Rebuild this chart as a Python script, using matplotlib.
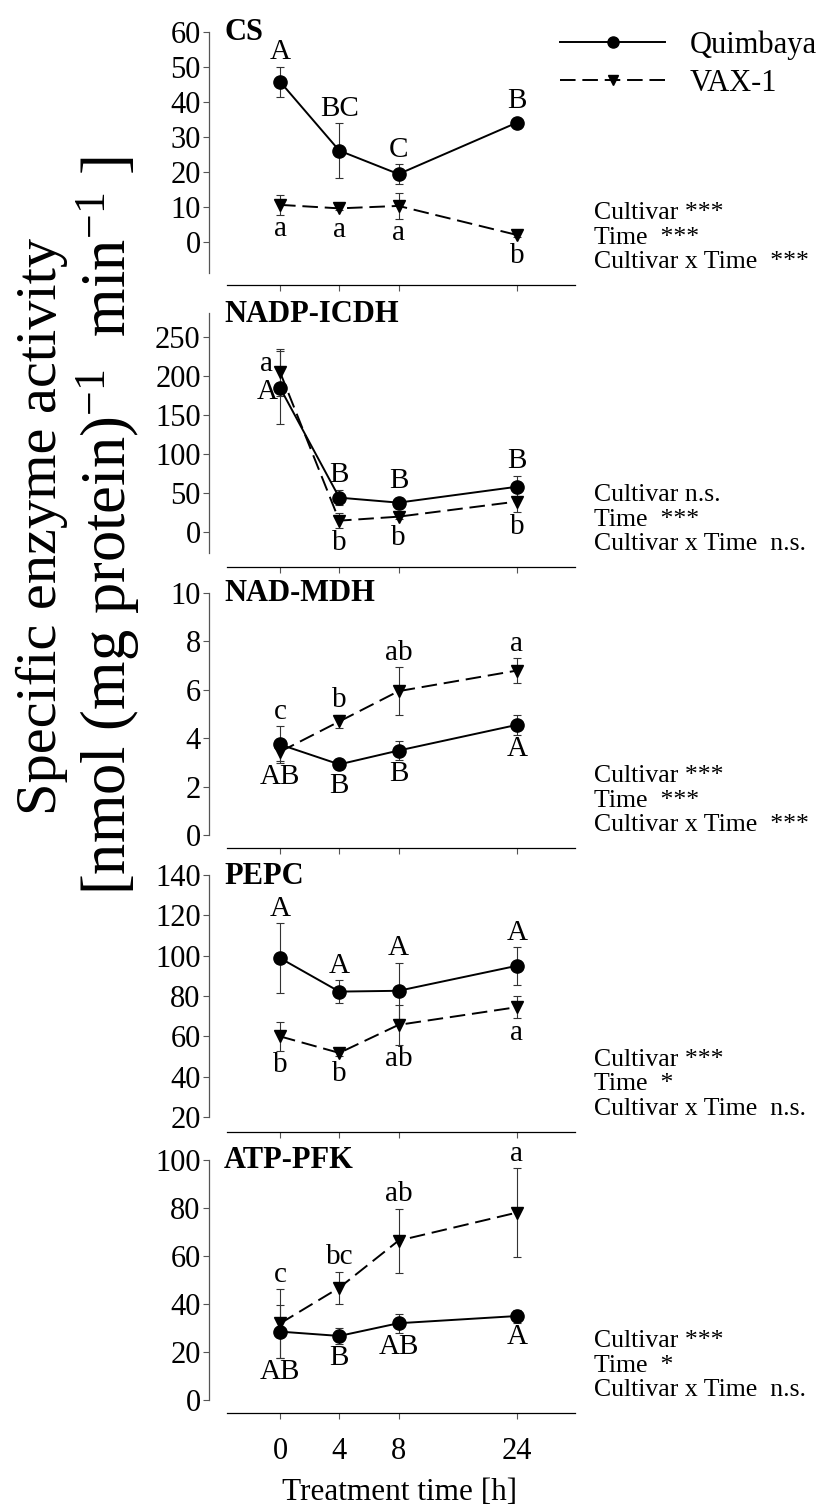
import matplotlib
matplotlib.use("Agg")
import matplotlib.pyplot as plt
from matplotlib.lines import Line2D

plt.rcParams['font.family'] = ['Liberation Serif', 'DejaVu Serif']
plt.rcParams['mathtext.fontset'] = 'custom'
plt.rcParams['mathtext.rm'] = 'Liberation Serif'
plt.rcParams['mathtext.it'] = 'Liberation Serif:italic'

# treatment times [h] and their slot on the (broken) x axis
times = [0, 4, 8, 24]
slots = [0, 1, 2, 4]

enzymes = ['CS', 'NADP-ICDH', 'NAD-MDH', 'PEPC', 'ATP-PFK']

# Quimbaya means / errors
q_mean = [
    [45.8, 26.1, 19.4, 34.1],
    [185, 44, 37.6, 58],
    [3.75, 2.93, 3.5, 4.56],
    [98.8, 82.2, 82.6, 95],
    [28.5, 26.7, 32, 35],
]
q_err = [
    [4.3, 7.8, 2.8, 1.0],
    [47, 10, 3, 14],
    [0.75, 0.1, 0.38, 0.4],
    [17.4, 5.7, 14, 9.3],
    [11, 3.2, 4, 2.7],
]
# VAX-1 means / errors
v_mean = [
    [10.6, 9.6, 10.3, 2.0],
    [205, 14.5, 19.6, 39],
    [3.45, 4.7, 5.95, 6.8],
    [60, 51.8, 65.7, 74.5],
    [31.9, 46.8, 66.4, 78.1],
]
v_err = [
    [2.8, 0.6, 3.6, 0.5],
    [30, 10, 3, 14],
    [0.4, 0.27, 1.0, 0.5],
    [7, 1.5, 10, 5.5],
    [14.4, 6.7, 13.3, 18.6],
]

# letters of the post-hoc test and where they sit:
# a/b = above/below own bar, A/B = above/below both bars, l = left of marker
q_letters = [
    ['A', 'BC', 'C', 'B'],
    ['A', 'B', 'B', 'B'],
    ['AB', 'B', 'B', 'A'],
    ['A', 'A', 'A', 'A'],
    ['AB', 'B', 'AB', 'A'],
]
q_where = ['aaaa', 'laaa', 'Bbbb', 'aaaa', 'bbbb']
v_letters = [
    ['a', 'a', 'a', 'b'],
    ['a', 'b', 'b', 'b'],
    ['c', 'b', 'ab', 'a'],
    ['b', 'b', 'ab', 'a'],
    ['c', 'bc', 'ab', 'a'],
]
v_where = ['bbbb', 'lbbb', 'Aaaa', 'bbbb', 'aaaa']

stats = [
    ['Cultivar ***', 'Time  ***', 'Cultivar x Time  ***'],
    ['Cultivar n.s.', 'Time  ***', 'Cultivar x Time  n.s.'],
    ['Cultivar ***', 'Time  ***', 'Cultivar x Time  ***'],
    ['Cultivar ***', 'Time  *', 'Cultivar x Time  n.s.'],
    ['Cultivar ***', 'Time  *', 'Cultivar x Time  n.s.'],
]

yticks = [range(0, 61, 10), range(0, 251, 50), range(0, 11, 2),
          range(20, 141, 20), range(0, 101, 20)]
ylims = [(-12.3, 60), (-45, 281), (-0.52, 10), (12.6, 140), (-5.4, 100)]
yspine = [(-8.9, 60), (-27, 281), (0, 10), (20, 140), (0, 100)]

# panel pixel extents (top, bottom)
W, H = 822, 1512
panels_px = [(32, 285), (313, 567), (593, 848), (875, 1132), (1160, 1413)]
left_px, right_px = 209, 575

fig = plt.figure(figsize=(W / 100, H / 100), dpi=100)

FS_TICK = 22
FS_LET = 21
FS_STAT = 18.5

for i, (top, bot) in enumerate(panels_px):
    ax = fig.add_axes([left_px / W, 1 - bot / H, (right_px - left_px) / W, (bot - top) / H])
    ax.set_xlim(-1.2, 4.98)
    ax.set_ylim(*ylims[i])
    for s in ['top', 'right']:
        ax.spines[s].set_visible(False)
    ax.spines['left'].set_bounds(*yspine[i])
    ax.spines['left'].set_color('#555555')
    ax.spines['bottom'].set_bounds(-0.9, 4.98)
    ax.spines['left'].set_linewidth(0.9)
    ax.spines['bottom'].set_linewidth(0.9)
    ax.set_yticks(list(yticks[i]))
    ax.set_xticks(slots)
    if i == 4:
        ax.set_xticklabels([str(t) for t in times])
    else:
        ax.set_xticklabels([])
    ax.tick_params(axis='both', labelsize=FS_TICK, length=4, width=0.8, color='#555555')
    ax.tick_params(axis='y', pad=2)
    ax.tick_params(axis='x', pad=13)

    ax.errorbar(slots, q_mean[i], yerr=q_err[i], color='black', ls='-', lw=1.4,
                marker='o', ms=9.5, ecolor='#333333', elinewidth=0.8, capsize=3, capthick=0.8,
                zorder=3)
    ax.errorbar(slots, v_mean[i], yerr=v_err[i], color='black', ls=(0, (8, 3.5)), lw=1.4,
                marker='v', ms=8.5, ecolor='#333333', elinewidth=0.8, capsize=3, capthick=0.8,
                zorder=3)

    # points per data unit, to keep letters clear of the markers
    pts_per_unit = (bot - top) * 0.72 / (ylims[i][1] - ylims[i][0])
    tops = [max(a + b, c + d) for a, b, c, d in zip(q_mean[i], q_err[i], v_mean[i], v_err[i])]
    bots = [min(a - b, c - d) for a, b, c, d in zip(q_mean[i], q_err[i], v_mean[i], v_err[i])]
    for means, errs, lets, where, is_q in [(q_mean[i], q_err[i], q_letters[i], q_where[i], True),
                                           (v_mean[i], v_err[i], v_letters[i], v_where[i], False)]:
        for j, (x, m, e, t, w) in enumerate(zip(slots, means, errs, lets, where)):
            extra = max(0.0, 5.0 - e * pts_per_unit)
            if w == 'a':
                ax.annotate(t, (x, m + e), xytext=(0, 1 + extra), textcoords='offset points',
                            ha='center', va='bottom', fontsize=FS_LET)
            elif w == 'A':
                ax.annotate(t, (x, tops[j]), xytext=(0, 1), textcoords='offset points',
                            ha='center', va='bottom', fontsize=FS_LET)
            elif w == 'b':
                ax.annotate(t, (x, m - e), xytext=(0, -1 - extra), textcoords='offset points',
                            ha='center', va='top', fontsize=FS_LET)
            elif w == 'B':
                ax.annotate(t, (x, bots[j]), xytext=(0, -1), textcoords='offset points',
                            ha='center', va='top', fontsize=FS_LET)
            else:
                dy = -3 if is_q else 6
                dx = -2 if is_q else -5
                ax.annotate(t, (x, m), xytext=(dx, dy), textcoords='offset points',
                            ha='right', va='center', fontsize=FS_LET)

    fig.text(224 / W, 1 - (top + 1) / H, enzymes[i], ha='left', va='center',
             fontsize=22, fontweight='bold')

    for k, line in enumerate(stats[i]):
        fig.text(594 / W, 1 - (bot - 23 - (2 - k) * 24.5) / H, line,
                 ha='left', va='center', fontsize=FS_STAT)

handles = [
    Line2D([], [], color='black', ls='-', lw=1.4, marker='o', ms=8),
    Line2D([], [], color='black', ls=(0, (8, 3.5)), lw=1.4, marker='v', ms=7),
]
fig.legend(handles, ['Quimbaya', 'VAX-1'], loc='upper left',
           bbox_to_anchor=(560 / W, 1 - 30 / H), frameon=False, fontsize=22,
           handlelength=3.45, handletextpad=0.8, labelspacing=0.3,
           borderpad=0, borderaxespad=0)

fig.text(42 / W, 1 - 526 / H, 'Specific enzyme activity', rotation=90,
         ha='center', va='center', fontsize=42)
fig.text(108 / W, 1 - 526 / H, '[nmol (mg protein)$^{-1}$  min$^{-1}$ ]', rotation=90,
         ha='center', va='center', fontsize=45)
fig.text(400 / W, 1 - 1492 / H, 'Treatment time [h]', ha='center', va='center', fontsize=22.5)

fig.savefig('out.png', dpi=100)
